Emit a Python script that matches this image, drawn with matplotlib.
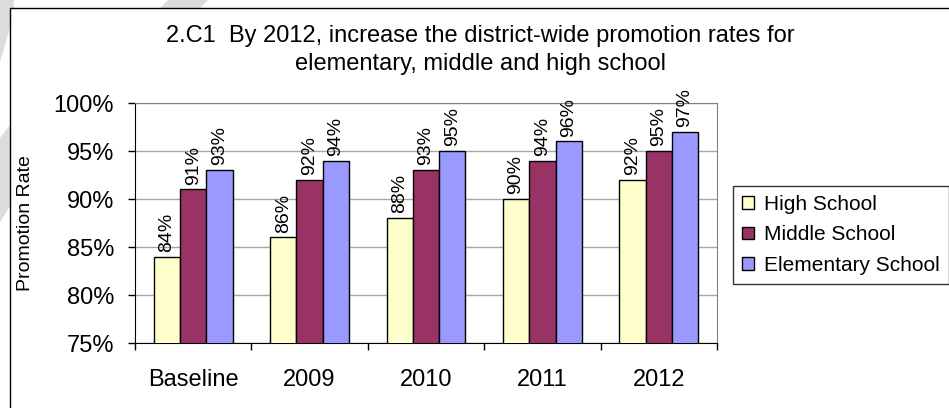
import numpy as np
import matplotlib
matplotlib.use("Agg")
from matplotlib import pyplot as plt
from matplotlib.patches import Rectangle, Polygon
from matplotlib.lines import Line2D
from matplotlib.ticker import FuncFormatter, MultipleLocator

# data
years = ["Baseline", "2009", "2010", "2011", "2012"]
series_names = ["High School", "Middle School", "Elementary School"]
high_school = [84, 86, 88, 90, 92]
middle_school = [91, 92, 93, 94, 95]
elementary_school = [93, 94, 95, 96, 97]
bar_colors = ["#FFFFCC", "#993366", "#9999FF"]

plt.rcParams["font.family"] = ["Liberation Sans", "DejaVu Sans"]

W, H = 949, 408
fig = plt.figure(figsize=(W / 100, H / 100), dpi=100)

def fx(x):
    return x / W

def fy(y):
    # y measured from the top of the picture
    return 1 - y / H

# faint watermark strokes, only visible outside the chart frame
wm = "#dcdcdc"
for pts in ([(168, 0), (208, 0), (100, 110), (60, 110)],
            [(0, 0), (14, 0), (14, 15), (0, 62)],
            [(0, 138), (14, 120), (14, 200), (0, 222)]):
    fig.patches.append(Polygon([(fx(a), fy(b)) for a, b in pts], closed=True,
                               facecolor=wm, edgecolor="none",
                               transform=fig.transFigure, zorder=-3))

# chart frame: white area, only its top and left edges are inside the picture
fig.patches.append(Rectangle((fx(9.5), 0), 1 - fx(9.5), fy(7.5), facecolor="white",
                             edgecolor="none", transform=fig.transFigure, zorder=-2))
fig.lines.append(Line2D([fx(9.5), fx(9.5), 1], [0, fy(7.5), fy(7.5)], color="black",
                        linewidth=1.0, transform=fig.transFigure, zorder=-1))

ax = fig.add_axes([fx(135), fy(343), fx(717 - 135), (343 - 103) / H])
ax.set_zorder(2)
ax.patch.set_facecolor("white")

x = np.arange(len(years))
width = 0.226
all_series = [high_school, middle_school, elementary_school]
for i, (vals, name, col) in enumerate(zip(all_series, series_names, bar_colors)):
    vals = np.array(vals) / 100.0
    bars = ax.bar(x + (i - 1) * width, vals, width, color=col, edgecolor="black",
                  linewidth=1.0, label=name, zorder=3)
    for b, v in zip(bars, vals):
        ax.annotate(f"{v * 100:.0f}%", (b.get_x() + b.get_width() / 2, v),
                    xytext=(0, 3.5), textcoords="offset points", rotation=90,
                    ha="center", va="bottom", fontsize=14, zorder=4)

ax.set_ylim(0.75, 1.0)
ax.set_xlim(-0.5, len(years) - 0.5)
ax.yaxis.set_major_locator(MultipleLocator(0.05))
ax.yaxis.set_major_formatter(FuncFormatter(lambda v, p: f"{v * 100:.0f}%"))
ax.grid(axis="y", color="#a6a6a6", linewidth=1.0, zorder=0)
ax.set_axisbelow(True)

ax.set_xticks(x)
ax.set_xticklabels(years)
ax.set_xticks(np.arange(-0.5, len(years), 1.0), minor=True)
ax.tick_params(axis="x", which="major", length=0, pad=19, labelsize=17)
ax.tick_params(axis="x", which="minor", length=5, width=1, direction="out")
ax.tick_params(axis="y", length=5, width=1, direction="out", pad=10, labelsize=17)

for s in ["top", "right"]:
    ax.spines[s].set_color("#808080")
for s in ["left", "bottom"]:
    ax.spines[s].set_color("black")

fig.text(fx(26), fy(223), "Promotion Rate", rotation=90, ha="center",
         va="center", fontsize=14)

fig.text(fx(480), fy(42), "2.C1  By 2012, increase the district-wide promotion rates for",
         ha="center", va="baseline", fontsize=17)
fig.text(fx(480), fy(70), "elementary, middle and high school",
         ha="center", va="baseline", fontsize=17)

leg = fig.legend(loc="center left", bbox_to_anchor=(fx(733), fy(235)),
                 fontsize=15, frameon=True, fancybox=False, edgecolor="black",
                 handlelength=0.55, handleheight=0.55, handletextpad=0.5,
                 labelspacing=0.55, borderpad=0.45, borderaxespad=0)
leg.get_frame().set_linewidth(1.0)
leg.set_zorder(5)

fig.savefig("out.png", dpi=100)
